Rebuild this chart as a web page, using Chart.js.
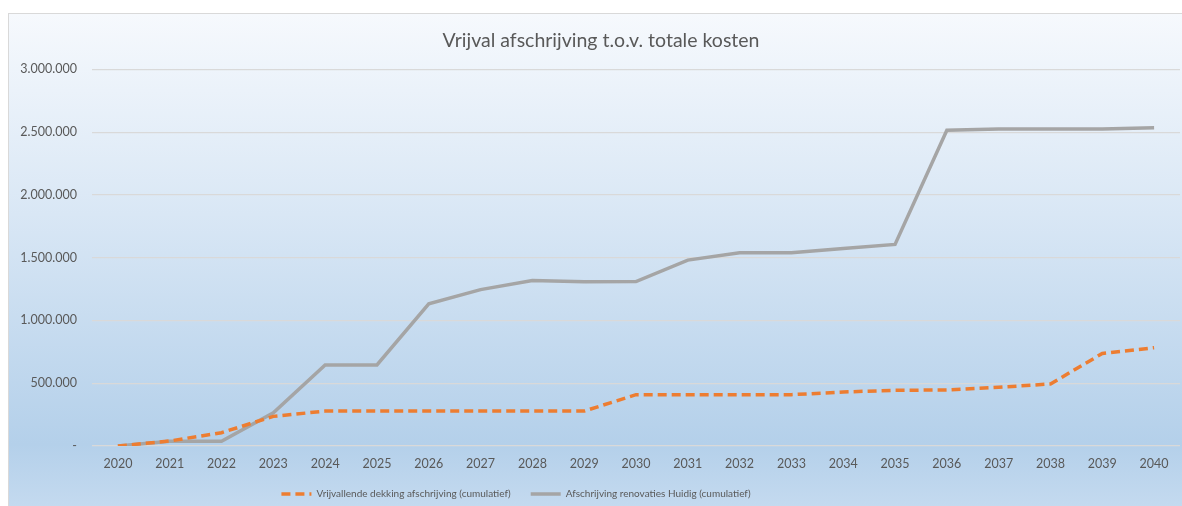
<!DOCTYPE html>
<html>
<head>
<meta charset="utf-8">
<script src="https://cdn.jsdelivr.net/npm/chart.js@4/dist/chart.umd.min.js"></script>
<style>
  html, body { margin: 0; padding: 0; background: #fff; }
  body { width: 1182px; height: 506px; position: relative; overflow: hidden; }
  #frame {
    position: absolute; left: 8px; top: 13px; width: 1190px; height: 500px;
    border: 1px solid #d9d9d9;
    background: linear-gradient(to bottom, #f6f9fd 0%, #d9e7f5 40%, #b4d0ea 86%, #c6dbf0 100%);
  }
  #chart { position: absolute; left: 0; top: 0; }
</style>
</head>
<body>
<div id="frame"></div>
<canvas id="chart" width="1182" height="506"></canvas>
<script>
// data
const years = ['2020','2021','2022','2023','2024','2025','2026','2027','2028','2029','2030',
               '2031','2032','2033','2034','2035','2036','2037','2038','2039','2040'];
const vrijvallend = [0, 40000, 106000, 236000, 278000, 278000, 278000, 278000, 278000, 278000, 409000,
                     409000, 409000, 409000, 430000, 444000, 446000, 468000, 494000, 737000, 783000];
const afschrijving = [0, 38000, 38000, 265000, 646000, 646000, 1132000, 1246000, 1318000, 1308000, 1310000,
                      1481000, 1540000, 1540000, 1574000, 1606000, 2516000, 2525000, 2525000, 2525000, 2535000];
const yMax = 3000000;
const yStep = 500000;

const FONT = "Lato, Calibri, 'Open Sans', sans-serif";
const GREY_TXT = '#595959';
const LEGEND_PAD = 20;

// nl-style number: 2.500.000, zero shown as "-"
function fmt(v){
  if(v === 0) return '-';
  return String(v).replace(/\B(?=(\d{3})+(?!\d))/g, '.');
}

// move title / legend a little, like the original
const nudge = {
  id: 'nudge',
  afterLayout(chart){
    const lg = chart.legend;
    lg.left -= 78; lg.right -= 78;
    lg.top -= 7; lg.bottom -= 7;
    const t = chart.titleBlock;
    if(t){ t.left += 7; t.right += 7; }
  }
};

new Chart(document.getElementById('chart'), {
  type: 'line',
  data: {
    labels: years,
    datasets: [
      {
        label: 'Vrijvallende dekking afschrijving (cumulatief)',
        data: vrijvallend,
        borderColor: '#ED7D31',
        backgroundColor: '#ED7D31',
        borderWidth: 3.5,
        borderDash: [9, 5],
        borderCapStyle: 'butt',
        tension: 0,
        pointRadius: 0,
        pointHoverRadius: 0
      },
      {
        label: 'Afschrijving renovaties Huidig (cumulatief)',
        data: afschrijving,
        borderColor: '#A5A5A5',
        backgroundColor: '#A5A5A5',
        borderWidth: 3.5,
        tension: 0,
        pointRadius: 0,
        pointHoverRadius: 0
      }
    ]
  },
  options: {
    responsive: false,
    animation: false,
    devicePixelRatio: 1,
    // negative bottom padding compensates for the wide legend padding
    layout: { padding: { left: 8, right: 2, top: 13, bottom: 10 - LEGEND_PAD } },
    plugins: {
      title: {
        display: true,
        text: 'Vrijval afschrijving t.o.v. totale kosten',
        color: GREY_TXT,
        font: { family: FONT, size: 19.5, weight: 'normal' },
        padding: { top: 16, bottom: 17 }
      },
      legend: {
        position: 'bottom',
        labels: {
          color: GREY_TXT,
          font: { family: FONT, size: 10 },
          usePointStyle: true,
          pointStyle: 'line',
          pointStyleWidth: 30,
          padding: LEGEND_PAD,
          // keep the dash of the series in the legend sample
          generateLabels(chart){
            const items = Chart.defaults.plugins.legend.labels.generateLabels(chart);
            items.forEach(it => {
              const ds = chart.data.datasets[it.datasetIndex];
              it.lineDash = ds.borderDash || [];
              it.lineWidth = 3.5;
              it.strokeStyle = ds.borderColor;
            });
            return items;
          }
        }
      },
      tooltip: { enabled: false }
    },
    scales: {
      x: {
        offset: true,
        grid: { display: false, drawTicks: false },
        border: { display: false },
        ticks: { color: GREY_TXT, font: { family: FONT, size: 12.5 }, padding: 10, maxRotation: 0, autoSkip: false },
        afterFit(s){ s.height = 30; }
      },
      y: {
        min: 0, max: yMax,
        grid: { color: '#d9d9d9', lineWidth: 1.3, drawTicks: false },
        border: { display: false },
        ticks: {
          stepSize: yStep,
          color: GREY_TXT,
          font: { family: FONT, size: 12.5 },
          padding: 15,
          callback: v => fmt(v)
        },
        afterFit(s){ s.width = 84; }
      }
    }
  },
  plugins: [nudge]
});
</script>
</body>
</html>
